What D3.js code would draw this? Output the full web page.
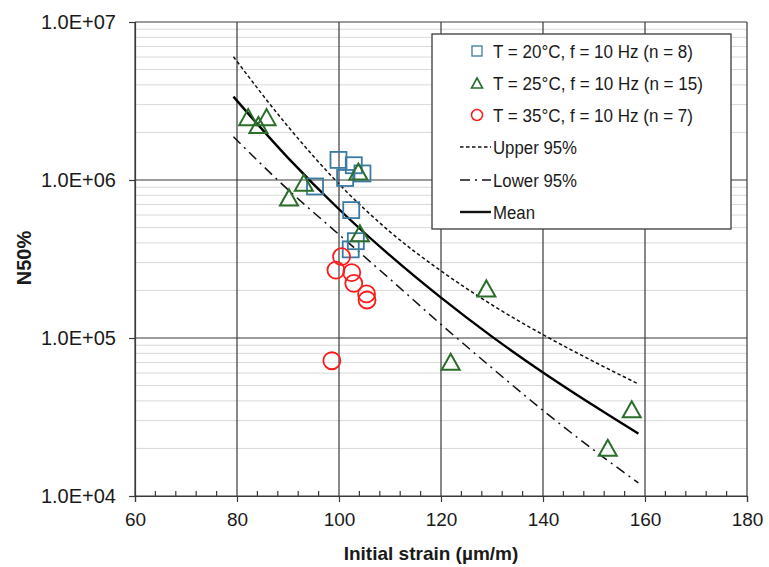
<!DOCTYPE html>
<html>
<head>
<meta charset="utf-8">
<script src="https://cdn.jsdelivr.net/npm/d3@7"></script>
<style>
  body { margin: 0; background: #fff; }
  svg text { font-family: "Liberation Sans", Arial, sans-serif; fill: #1a1a1a; }
</style>
</head>
<body>
<svg id="chart"></svg>
<script>
// tick values / labels
var xTicks = [60, 80, 100, 120, 140, 160, 180];
var yTicks = [1e4, 1e5, 1e6, 1e7];
var yTickLabels = ["1.0E+04", "1.0E+05", "1.0E+06", "1.0E+07"];

// T = 20°C
var t20Strain = [99.9, 102.9, 104.6, 101.2, 95.3, 102.4, 103.3, 102.3];
var t20N = [1.34e6, 1.24e6, 1.10e6, 1.03e6, 9.1e5, 6.45e5, 4.1e5, 3.64e5];
// T = 25°C
var t25Strain = [82.2, 85.8, 84.2, 93.1, 90.2, 103.8, 104.1, 128.9, 121.9, 157.4, 152.7];
var t25N = [2.5e6, 2.5e6, 2.23e6, 9.6e5, 7.76e5, 1.13e6, 4.6e5, 2.06e5, 7.08e4, 3.54e4, 2.02e4];
// T = 35°C
var t35Strain = [100.5, 99.4, 102.5, 102.9, 105.4, 105.5, 98.6];
var t35N = [3.27e5, 2.69e5, 2.59e5, 2.22e5, 1.9e5, 1.74e5, 7.18e4];

// fitted curves
var curveStrain = [79.3, 90, 100, 110, 120, 130, 140, 150, 158.7];
var meanN  = [3.37e6, 1.38e6, 6.53e5, 3.33e5, 1.80e5, 1.02e5, 6.05e4, 3.72e4, 2.48e4];
var upperN = [6.03e6, 2.18e6, 9.44e5, 4.70e5, 2.66e5, 1.62e5, 1.05e5, 7.08e4, 5.12e4];
var lowerN = [1.88e6, 8.69e5, 4.52e5, 2.36e5, 1.22e5, 6.46e4, 3.48e4, 1.95e4, 1.21e4];

var legendLabels = ["T = 20°C, f = 10 Hz (n = 8)", "T = 25°C, f = 10 Hz (n = 15)",
                    "T = 35°C, f = 10 Hz (n = 7)", "Upper 95%", "Lower 95%", "Mean"];
var legendTextWidths = [200, 210, 200, 84, 84, 42];

var W = 769, H = 567;
var pLeft = 135, pRight = 747, pTop = 22, pBottom = 496;

var svg = d3.select("#chart").attr("width", W).attr("height", H);

var x = d3.scaleLinear().domain([60, 180]).range([pLeft, pRight]);
var y = d3.scaleLog().domain([1e4, 1e7]).range([pBottom, pTop]);

var blue = "#3b7ba3", green = "#2a6e2a", red = "#ff1a1a";

// minor horizontal grid
var minor = [];
[1e4, 1e5, 1e6].forEach(function(d) {
  for (var k = 2; k < 10; k++) minor.push(d * k);
});
svg.append("g").selectAll("line").data(minor).enter().append("line")
   .attr("x1", pLeft).attr("x2", pRight)
   .attr("y1", function(d) { return y(d); }).attr("y2", function(d) { return y(d); })
   .attr("stroke", "#d9d9d9").attr("stroke-width", 1);

// major grid
svg.append("g").selectAll("line").data(yTicks).enter().append("line")
   .attr("x1", pLeft).attr("x2", pRight)
   .attr("y1", function(d) { return y(d); }).attr("y2", function(d) { return y(d); })
   .attr("stroke", "#3a3a3a").attr("stroke-width", 1.2);
svg.append("g").selectAll("line").data(xTicks).enter().append("line")
   .attr("y1", pTop).attr("y2", pBottom)
   .attr("x1", function(d) { return x(d); }).attr("x2", function(d) { return x(d); })
   .attr("stroke", "#3a3a3a").attr("stroke-width", 1.2);

// x axis: minor ticks inside, major ticks crossing
var xMinor = d3.range(60, 181, 4).filter(function(d) { return d % 20 !== 0; });
svg.append("g").selectAll("line").data(xMinor).enter().append("line")
   .attr("x1", function(d) { return x(d); }).attr("x2", function(d) { return x(d); })
   .attr("y1", pBottom - 5).attr("y2", pBottom)
   .attr("stroke", "#3a3a3a").attr("stroke-width", 1.2);

var xAxis = svg.append("g").attr("transform", "translate(0," + pBottom + ")")
   .call(d3.axisBottom(x).tickValues(xTicks).tickSize(6).tickPadding(11).tickFormat(d3.format("d")));
xAxis.select(".domain").attr("stroke", "#3a3a3a").attr("stroke-width", 1.2);
xAxis.selectAll(".tick line").attr("stroke", "#3a3a3a").attr("stroke-width", 1.2);
xAxis.selectAll("text").attr("font-size", 19).attr("fill", "#1a1a1a")
     .style("font-family", "Liberation Sans, Arial, sans-serif");

var yAxis = svg.append("g").attr("transform", "translate(" + pLeft + ",0)")
   .call(d3.axisLeft(y).tickValues(yTicks).tickSize(6).tickPadding(13)
         .tickFormat(function(d, i) { return yTickLabels[i]; }));
yAxis.select(".domain").attr("stroke", "#3a3a3a").attr("stroke-width", 1.2);
yAxis.selectAll(".tick line").attr("stroke", "#3a3a3a").attr("stroke-width", 1.2);
yAxis.selectAll("text").attr("font-size", 20).attr("fill", "#1a1a1a")
     .style("font-family", "Liberation Sans, Arial, sans-serif");

// curves
function curvePts(vals) {
  return curveStrain.map(function(s, i) { return [x(s), y(vals[i])]; });
}
var line = d3.line().curve(d3.curveMonotoneX);

svg.append("path").attr("d", line(curvePts(upperN)))
   .attr("fill", "none").attr("stroke", "#111").attr("stroke-width", 1.5)
   .attr("stroke-dasharray", "3.5,2.5");
svg.append("path").attr("d", line(curvePts(lowerN)))
   .attr("fill", "none").attr("stroke", "#111").attr("stroke-width", 1.5)
   .attr("stroke-dasharray", "10,5,2,5");
svg.append("path").attr("d", line(curvePts(meanN)))
   .attr("fill", "none").attr("stroke", "#000").attr("stroke-width", 2.4);

// markers
function tri(w, h) {
  return "M0," + (-h / 2) + "L" + (w / 2) + "," + (h / 2) + "L" + (-w / 2) + "," + (h / 2) + "Z";
}

svg.append("g").selectAll("rect").data(t20Strain).enter().append("rect")
   .attr("x", function(d) { return x(d) - 8; })
   .attr("y", function(d, i) { return y(t20N[i]) - 8; })
   .attr("width", 16).attr("height", 16)
   .attr("fill", "none").attr("stroke", blue).attr("stroke-width", 1.8);

svg.append("g").selectAll("path").data(t25Strain).enter().append("path")
   .attr("d", tri(18, 16))
   .attr("transform", function(d, i) { return "translate(" + x(d) + "," + y(t25N[i]) + ")"; })
   .attr("fill", "none").attr("stroke", green).attr("stroke-width", 2);

svg.append("g").selectAll("circle").data(t35Strain).enter().append("circle")
   .attr("cx", function(d) { return x(d); })
   .attr("cy", function(d, i) { return y(t35N[i]); })
   .attr("r", 8.5)
   .attr("fill", "none").attr("stroke", red).attr("stroke-width", 1.8);

// axis titles
svg.append("text").attr("x", 431).attr("y", 560).attr("text-anchor", "middle")
   .attr("font-size", 19).attr("font-weight", "bold").text("Initial strain (µm/m)");
svg.append("text").attr("transform", "translate(31,258) rotate(-90)").attr("text-anchor", "middle")
   .attr("font-size", 20).attr("font-weight", "bold").text("N50%");

// legend
var lg = svg.append("g");
lg.append("rect").attr("x", 432).attr("y", 34).attr("width", 299).attr("height", 195)
  .attr("fill", "#fff").attr("stroke", "#3a3a3a").attr("stroke-width", 1.3);

var rowY = [51, 83, 115, 147, 180, 212];
var rows = lg.selectAll("g.row").data(legendLabels).enter().append("g")
  .attr("transform", function(d, i) { return "translate(0," + rowY[i] + ")"; });
rows.append("text").attr("x", 493).attr("y", 6.5).attr("font-size", 18)
  .attr("textLength", function(d, i) { return legendTextWidths[i]; })
  .attr("lengthAdjust", "spacingAndGlyphs")
  .text(function(d) { return d; });

lg.append("rect").attr("x", 472).attr("y", rowY[0] - 5).attr("width", 10).attr("height", 10)
  .attr("fill", "none").attr("stroke", blue).attr("stroke-width", 1.3);
lg.append("path").attr("d", tri(11, 10)).attr("transform", "translate(477," + rowY[1] + ")")
  .attr("fill", "none").attr("stroke", green).attr("stroke-width", 1.6);
lg.append("circle").attr("cx", 477).attr("cy", rowY[2]).attr("r", 5.5)
  .attr("fill", "none").attr("stroke", red).attr("stroke-width", 1.5);

var lineStyles = [["3.5,2.5", 1.5], ["10,5,2,5", 1.5], [null, 2.4]];
lineStyles.forEach(function(s, i) {
  lg.append("line").attr("x1", 460).attr("x2", 491)
    .attr("y1", rowY[3 + i]).attr("y2", rowY[3 + i])
    .attr("stroke", "#111").attr("stroke-width", s[1])
    .attr("stroke-dasharray", s[0]);
});
</script>
</body>
</html>
